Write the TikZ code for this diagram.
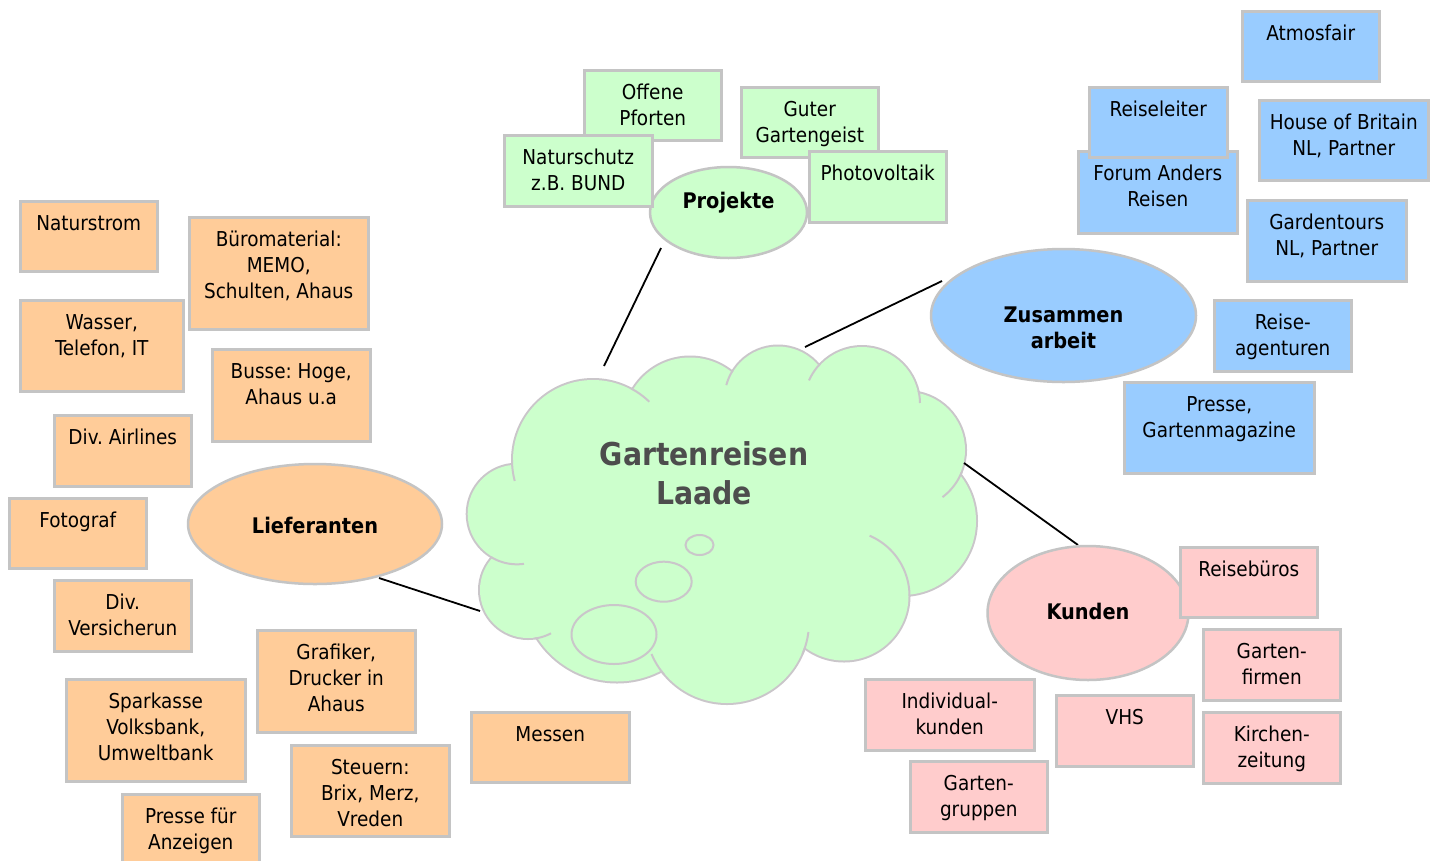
\documentclass[tikz,border=0pt]{standalone}
\usepackage{fontspec}
\setmainfont{DejaVu Sans Condensed}[BoldFont={DejaVu Sans Condensed Bold}]
\usetikzlibrary{shapes.geometric}
\frenchspacing
\definecolor{orf}{HTML}{FFCC99}
\definecolor{grf}{HTML}{CCFFCC}
\definecolor{blf}{HTML}{99CCFF}
\definecolor{pkf}{HTML}{FFCCCC}
\definecolor{bd}{HTML}{C4C4C4}
\definecolor{cbd}{HTML}{CAC6CA}
\definecolor{ttl}{HTML}{4D4D4D}
\tikzset{
  boxbase/.style={rectangle, draw=bd, line width=2.5pt, inner sep=0pt},
  obox/.style={boxbase, fill=orf},
  gbox/.style={boxbase, fill=grf},
  bbox/.style={boxbase, fill=blf},
  pbox/.style={boxbase, fill=pkf},
  tx/.style={font=\fontsize{20.5}{26}\selectfont, align=center, inner sep=0pt, anchor=north},
  btx/.style={font=\fontsize{21.5}{26}\selectfont\bfseries, align=center, inner sep=0pt, anchor=north},
  ttltx/.style={font=\fontsize{31.5}{39}\selectfont\bfseries, text=ttl, align=center, inner sep=0pt, anchor=north},
  ell/.style={ellipse, draw=bd, line width=2.5pt, inner sep=0pt},
  conn/.style={draw=black, line width=1.8pt},
  cloudedge/.style={draw=cbd, line width=4pt},
  cloudtail/.style={draw=cbd, line width=2pt},
  bubble/.style={draw=cbd, line width=2pt},
}
% name, x1, y1, x2, y2, style, text
\newcommand\bx[7]{%
  \node[#6, anchor=north west, minimum width={(#4-#2)*1pt}, minimum height={(#5-#3)*1pt}] (#1) at (#2,#3) {};
  \node[tx] (#1-t) at ([yshift=-14pt]#1.north) {\rule{0pt}{16pt}#7};
}
\newcommand\ctail[5]{%
  \path[cloudtail] plot[domain=#4:#5, samples=30, smooth] ({#1+(#3+1)*cos(\x)},{#2+(#3+1)*sin(\x)});
}
\begin{document}
\begin{tikzpicture}[x=1pt,y=-1pt]
\useasboundingbox (0,0) rectangle (1437,860);
\fill[white] (0,0) rectangle (1437,860);

% ---------- cloud ----------
\foreach \cx/\cy/\cr in {593/460/80, 690/424/66.5, 778/399/52.5, 862/404/57, 907/450/58, 902/521/74, 844/596/64.5, 727/622/81, 617/587/94.5, 528/590/48, 517/514/49.3}
  \path[cloudedge] (\cx,\cy) circle[radius={\cr*1pt}];
\foreach \cx/\cy/\cr in {593/460/80, 690/424/66.5, 778/399/52.5, 862/404/57, 907/450/58, 902/521/74, 844/596/64.5, 727/622/81, 617/587/94.5, 528/590/48, 517/514/49.3}
  \fill[grf] (\cx,\cy) circle[radius={\cr*1pt}];
\fill[grf] (720,515) ellipse[x radius=190pt, y radius=120pt];
\ctail{593}{460}{80}{165}{180}
\ctail{593}{460}{80}{-62}{-46}
\ctail{778}{399}{52.5}{-165}{-148}
\ctail{862}{404}{57}{-156}{-136}
\ctail{862}{404}{57}{-13}{-1}
\ctail{907}{450}{58}{22}{53}
\ctail{844}{596}{64.5}{-67}{0}
\ctail{727}{622}{81}{7}{23}
\ctail{727}{622}{81}{140}{157}
\ctail{528}{590}{48}{62}{82}
\ctail{517}{514}{49.3}{82}{121}
\path[bubble] (699.5,545) ellipse[x radius=14pt, y radius=10pt];
\path[bubble] (663.7,581.7) ellipse[x radius=28pt, y radius=20pt];
\path[bubble] (614,634.5) ellipse[x radius=42.5pt, y radius=29.5pt];
\node[ttltx] (cloud-t) at (704,441) {\rule{0pt}{24pt}Gartenreisen\\Laade};

% ---------- connectors ----------
\coordinate (pA) at (661,248); \coordinate (pB) at (604,366);
\coordinate (zA) at (942,281); \coordinate (zB) at (805,347);
\coordinate (kA) at (964,463); \coordinate (kB) at (1078,545);
\coordinate (lA) at (379,578); \coordinate (lB) at (480,611);
\draw[conn] (pA) -- (pB);
\draw[conn] (zA) -- (zB);
\draw[conn] (kA) -- (kB);
\draw[conn] (lA) -- (lB);

% ---------- ellipses ----------
\node[ell, fill=grf, minimum width=157pt, minimum height=91pt] (proj) at (728.5,212.5) {};
\node[btx] (proj-t) at (728.5,191) {\rule{0pt}{17pt}Projekte};
\node[ell, fill=blf, minimum width=265pt, minimum height=133pt] (zus) at (1063.5,315.5) {};
\node[btx] (zus-t) at (1063.5,305.5) {\rule{0pt}{17pt}Zusammen\\arbeit};
\node[ell, fill=pkf, minimum width=201pt, minimum height=134pt] (kun) at (1088,613) {};
\node[btx] (kun-t) at (1088,602) {\rule{0pt}{17pt}Kunden};
\node[ell, fill=orf, minimum width=254pt, minimum height=120pt] (lief) at (315,524) {};
\node[btx] (lief-t) at (315,516.5) {\rule{0pt}{17pt}Lieferanten};

% ---------- orange boxes ----------
\bx{o1}{19}{200}{156}{270}{obox}{Naturstrom}
\bx{o2}{188}{216}{367}{328}{obox}{Büromaterial:\\MEMO,\\Schulten, Ahaus}
\bx{o3}{19}{299}{182}{390}{obox}{Wasser,\\Telefon, IT}
\bx{o4}{211}{348}{369}{440}{obox}{Busse: Hoge,\\Ahaus u.a}
\bx{o5}{53}{414}{190}{485}{obox}{Div. Airlines}
\bx{o6}{8}{497}{145}{567}{obox}{Fotograf}
\bx{o7}{53}{579}{190}{650}{obox}{Div.\\Versicherun}
\bx{o8}{256}{629}{414}{731}{obox}{Grafiker,\\Drucker in\\Ahaus}
\bx{o9}{65}{678}{244}{780}{obox}{Sparkasse\\Volksbank,\\Umweltbank}
\bx{o10}{290}{744}{448}{835}{obox}{Steuern:\\Brix, Merz,\\Vreden}
\bx{o11}{121}{793}{258}{866}{obox}{Presse für\\Anzeigen}
\bx{o12}{470}{711}{628}{781}{obox}{Messen}

% ---------- green boxes ----------
\bx{g1}{583}{69}{720}{139}{gbox}{Offene\\Pforten}
\bx{g2}{503}{134}{651}{205}{gbox}{Naturschutz\\z.B. BUND}
\bx{g3}{740}{86}{877}{156}{gbox}{Guter\\Gartengeist}
\bx{g4}{808}{150}{945}{221}{gbox}{Photovoltaik}

% ---------- blue boxes ----------
\bx{b1}{1241}{10}{1378}{80}{bbox}{Atmosfair}
\bx{b2}{1077}{150}{1236}{232}{bbox}{Forum Anders\\Reisen}
\bx{b3}{1088}{86}{1226}{156}{bbox}{Reiseleiter}
\bx{b4}{1258}{99}{1427}{179}{bbox}{House of Britain\\NL, Partner}
\bx{b5}{1246}{199}{1405}{280}{bbox}{Gardentours\\NL, Partner}
\bx{b6}{1213}{299}{1350}{370}{bbox}{Reise-\\agenturen}
\bx{b7}{1123}{381}{1313}{472}{bbox}{Presse,\\Gartenmagazine}

% ---------- pink boxes ----------
\bx{p1}{1179}{546}{1316}{616}{pbox}{Reisebüros}
\bx{p2}{1202}{628}{1339}{699}{pbox}{Garten-\\firmen}
\bx{p3}{1202}{711}{1339}{782}{pbox}{Kirchen-\\zeitung}
\bx{p4}{864}{678}{1033}{749}{pbox}{Individual-\\kunden}
\bx{p5}{1055}{694}{1192}{765}{pbox}{VHS}
\bx{p6}{909}{760}{1046}{831}{pbox}{Garten-\\gruppen}
\end{tikzpicture}
\end{document}
